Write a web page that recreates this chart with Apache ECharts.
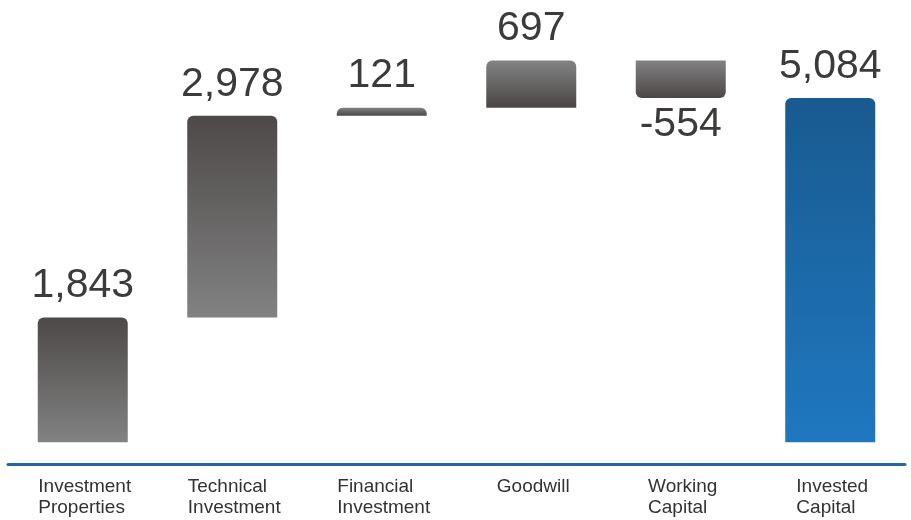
<!DOCTYPE html>
<html>
<head>
<meta charset="utf-8">
<script src="https://cdn.jsdelivr.net/npm/echarts@6/dist/echarts.min.js"></script>
<style>
  html, body { margin: 0; padding: 0; background: #ffffff; }
  #chart { width: 911px; height: 520px; }
</style>
</head>
<body>
<div id="chart"></div>
<script>
// Invested capital bridge (waterfall)
const categories = [
  ['Investment', 'Properties'],
  ['Technical', 'Investment'],
  ['Financial', 'Investment'],
  ['Goodwill'],
  ['Working', 'Capital'],
  ['Invested', 'Capital']
];
const values = [1843, 2978, 121, 697, -554, 5084];
const isTotal = [false, false, false, false, false, true];

const FONT = '"Liberation Sans", Arial, sans-serif';

// floating base (invisible) and visible segment for each step
const baseData = [];
const barData = [];
let running = 0;
values.forEach(function (v, i) {
  let base, height;
  if (isTotal[i]) {
    base = 0; height = v;
  } else if (v >= 0) {
    base = running; height = v; running += v;
  } else {
    running += v; base = running; height = -v;
  }
  baseData.push(base);

  const neg = v < 0;
  let top, bottom;
  if (isTotal[i]) { top = '#195a90'; bottom = '#1f78c0'; }
  else if (i < 2) { top = '#4d4948'; bottom = '#828282'; }
  else { top = '#838383'; bottom = '#4a4645'; }

  barData.push({
    value: height,
    itemStyle: {
      color: {
        type: 'linear', x: 0, y: 0, x2: 0, y2: 1,
        colorStops: [{ offset: 0, color: top }, { offset: 1, color: bottom }]
      },
      borderRadius: neg ? [0, 0, 6, 6] : [6, 6, 0, 0]
    },
    label: neg ? { position: 'bottom', distance: 6 } : { position: 'top', distance: 11 }
  });
});

const chart = echarts.init(document.getElementById('chart'));
chart.setOption({
  animation: false,
  backgroundColor: '#ffffff',
  grid: { left: 8, right: 6, top: 36, bottom: 56 },
  xAxis: {
    type: 'category',
    data: categories.map(function (c) { return c.join('\n'); }),
    axisLine: { show: true, onZero: false, lineStyle: { color: '#27679f', width: 3 } },
    axisTick: { show: false },
    splitLine: { show: false },
    axisLabel: {
      interval: 0,
      margin: 12,
      align: 'center',
      padding: [0, 0, 0, 4],
      formatter: function (val) {
        return val.split('\n').map(function (s) { return '{a|' + s + '}'; }).join('\n');
      },
      rich: {
        a: { align: 'left', fontSize: 19, lineHeight: 21, color: '#333333', fontFamily: FONT }
      }
    }
  },
  yAxis: {
    type: 'value',
    min: -320,
    max: 6000,
    show: false,
    splitLine: { show: false }
  },
  series: [
    {
      type: 'bar',
      stack: 'bridge',
      barWidth: 90,
      silent: true,
      itemStyle: { color: 'transparent' },
      data: baseData
    },
    {
      type: 'bar',
      stack: 'bridge',
      barWidth: 90,
      data: barData,
      label: {
        show: true,
        fontSize: 41,
        color: '#3d3b3a',
        fontFamily: FONT,
        formatter: function (p) {
          return values[p.dataIndex].toLocaleString('en-US');
        }
      }
    }
  ]
});
</script>
</body>
</html>
